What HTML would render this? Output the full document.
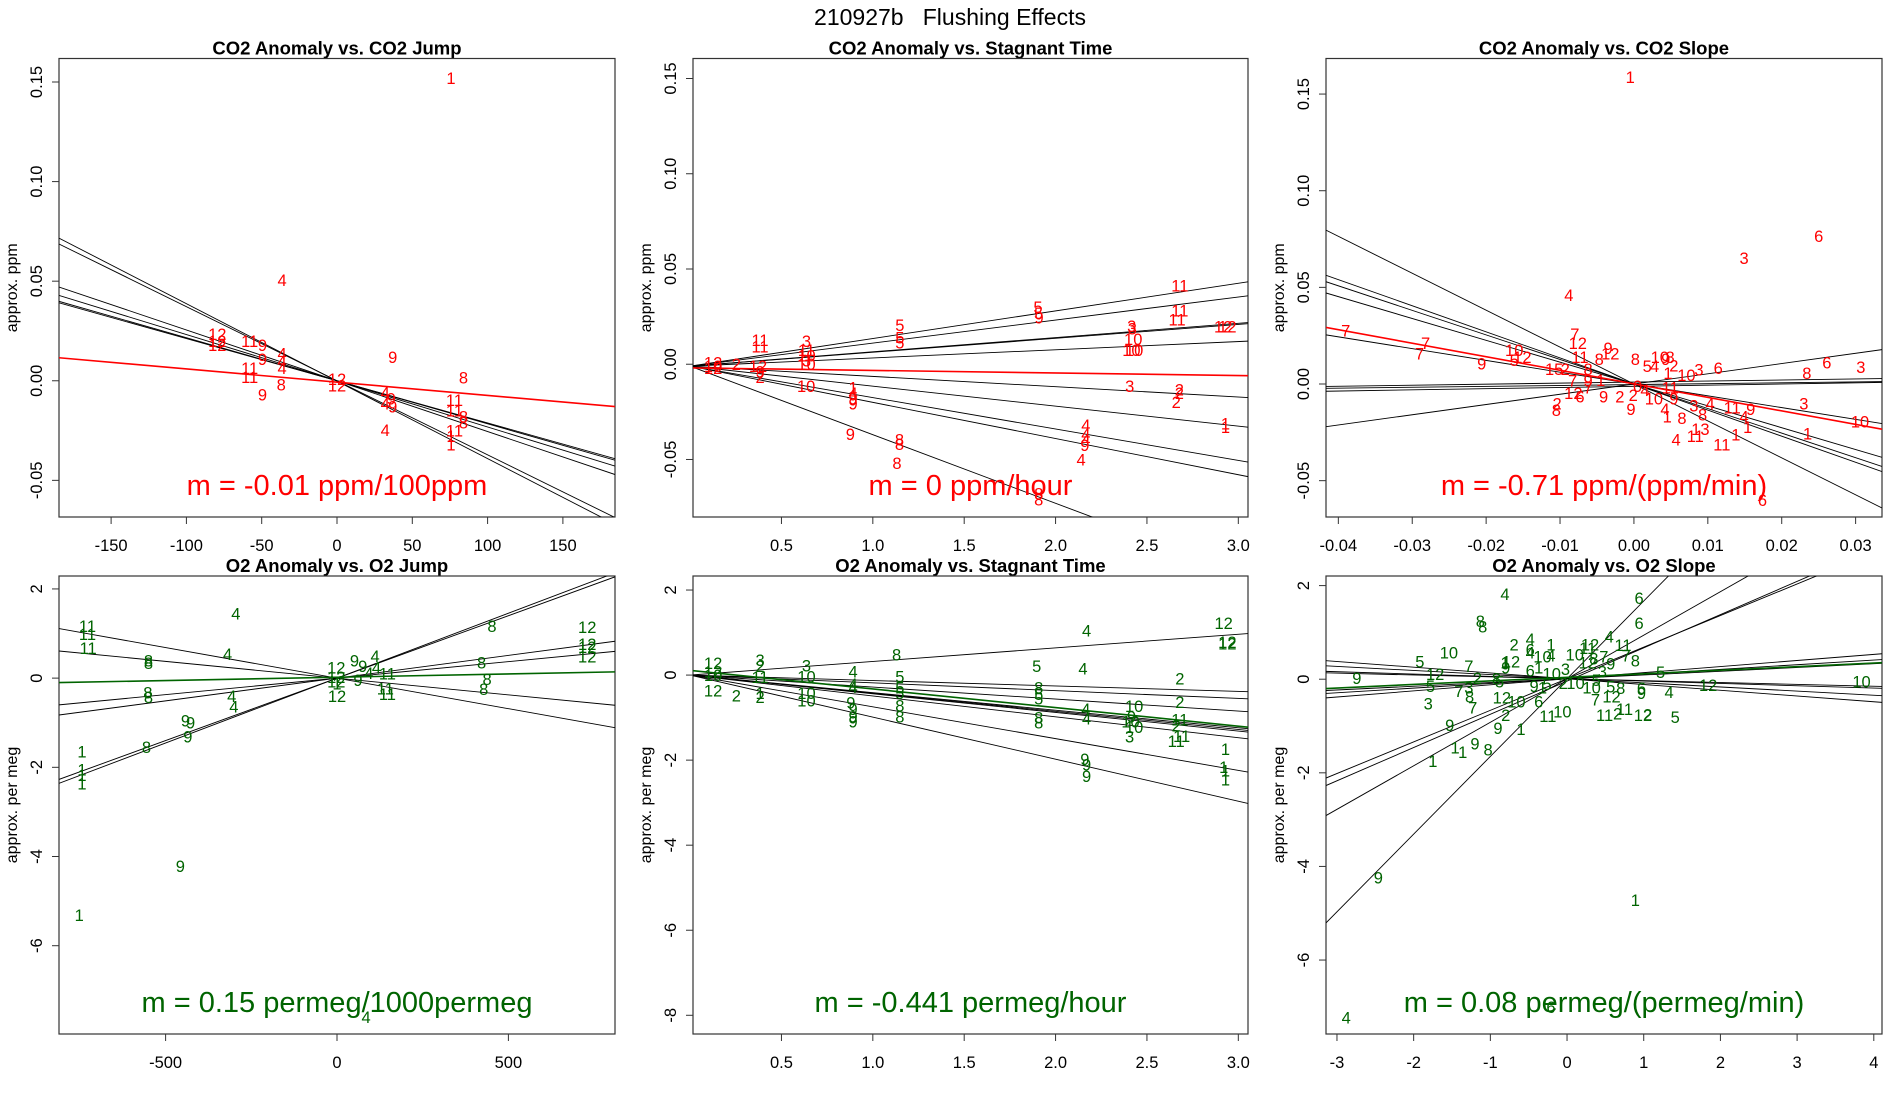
<!DOCTYPE html>
<html><head><meta charset="utf-8"><style>
html,body{margin:0;padding:0;background:#fff;}
svg{display:block;font-family:"Liberation Sans",Arial,sans-serif;}
</style></head><body>
<svg id="chart" width="1900" height="1100" viewBox="0 0 1900 1100" xmlns="http://www.w3.org/2000/svg">
<rect x="0" y="0" width="1900" height="1100" fill="#fff"/>
<text x="950" y="25" text-anchor="middle" font-size="23" style="white-space:pre" xml:space="preserve">210927b   Flushing Effects</text>
</svg>
<script>
// Panel 1: CO2 Anomaly vs CO2 Jump
const p1X=[75.7,-36.5,-79.5,-79.5,-79.5,-58,-49.5,-49.5,-36.5,-36.5,-36.5,-58,-58,-37,-49.5,0,0,37,84,32,32,36,37,32,78,78,84,84,78,75.7,75.7];
const p1Y=[0.152,0.0506,0.0236,0.020,0.018,0.020,0.018,0.011,0.0137,0.010,0.0065,0.0065,0.002,-0.002,-0.007,0.001,-0.0025,0.012,0.0016,-0.006,-0.0115,-0.009,-0.013,-0.0247,-0.0097,-0.015,-0.018,-0.021,-0.025,-0.0277,-0.032];
const p1Lab=["1","4","12","12","12","11","9","9","4","4","4","11","11","8","9","12","12","9","8","4","4","9","9","4","11","11","8","8","11","1","1"];
const p1LineInt=[-0.0002,0,0,0,0,0];
const p1LineSlope=[-0.000389,-0.000372,-0.000255,-0.000232,-0.000216,-0.000212];
const p1FitInt=-0.0007, p1FitSlope=-0.0000664;
// Panel 2: CO2 Anomaly vs Stagnant Time
const p2X=[0.383,0.383,0.637,0.637,0.637,0.637,0.637,1.148,1.148,1.148,1.904,1.907,1.91,2.68,2.68,2.665,2.417,2.42,2.425,2.415,2.43,2.917,2.94,0.126,0.126,0.126,0.253,0.372,0.383,0.383,0.635,0.892,0.892,0.892,0.892,0.877,1.146,1.146,1.132,2.406,2.677,2.677,2.66,2.93,2.93,2.166,2.166,2.166,2.16,2.14,1.908,1.908];
const p2Y=[0.0126,0.0094,0.0122,0.0075,0.0047,0.0019,0.0,0.0207,0.0141,0.0113,0.030,0.027,0.0245,0.0414,0.0283,0.0235,0.0202,0.0188,0.0132,0.0075,0.0075,0.0198,0.0198,0.001,-0.001,-0.002,0.0,-0.001,-0.0038,-0.0066,-0.0113,-0.0122,-0.015,-0.018,-0.0207,-0.0367,-0.0396,-0.042,-0.0518,-0.0113,-0.0132,-0.0151,-0.0198,-0.031,-0.033,-0.032,-0.0367,-0.0396,-0.0424,-0.05,-0.0678,-0.071];
const p2Lab=["11","11","3","11","10","3","10","5","5","5","5","5","9","11","11","11","3","3","10","10","10","12","12","12","10","12","2","12","9","2","10","1","4","9","9","9","8","8","8","3","2","2","2","1","1","4","4","4","9","4","8","8"];
const p2LineInt=[-0.001,-0.001,-0.001,-0.001,-0.001,-0.001,-0.001,-0.001,-0.001,-0.001];
const p2LineSlope=[0.0145,0.0121,0.0075,0.0073,0.0043,-0.0054,-0.0105,-0.0165,-0.019,-0.036];
const p2FitInt=-0.0019, p2FitSlope=-0.00134;
// Panel 3: CO2 Anomaly vs CO2 Slope
const p3X=[-0.0005,0.025,0.0149,-0.0088,-0.039,-0.0282,-0.029,-0.0206,-0.0162,-0.0151,-0.0162,-0.008,-0.0076,-0.0073,-0.0035,-0.0032,-0.0047,0.0002,0.0018,0.0028,0.0035,0.0043,0.0049,0.0054,0.0046,0.0071,0.0088,0.0114,0.0261,0.0307,0.0234,-0.0108,-0.0093,-0.0062,-0.0083,-0.0062,-0.0062,-0.0045,-0.0082,-0.0073,-0.0104,-0.0105,-0.0041,-0.0019,-0.0004,-0.0001,0.0005,0.0015,0.0027,0.0049,0.0054,0.0042,0.0045,0.0065,0.0081,0.0103,0.0093,0.0133,0.0158,0.0149,0.009,0.0154,0.0138,0.0057,0.0083,0.0119,0.023,0.0235,0.0306,0.0174];
const p3Y=[0.1587,0.0767,0.0653,0.046,0.0278,0.0213,0.0158,0.0106,0.0176,0.0139,0.0124,0.026,0.0213,0.0139,0.0186,0.0158,0.013,0.013,0.0093,0.0093,0.0139,0.013,0.0139,0.0097,0.0056,0.0046,0.0074,0.0084,0.0111,0.0087,0.0056,0.0078,0.0078,0.0078,0.0019,0.0019,-0.0019,0.0022,-0.0046,-0.0065,-0.0102,-0.0134,-0.0065,-0.0065,-0.013,-0.0056,-0.001,-0.003,-0.0074,-0.0019,-0.0074,-0.013,-0.0167,-0.0176,-0.0111,-0.0102,-0.0158,-0.0121,-0.013,-0.0167,-0.0232,-0.0223,-0.026,-0.0288,-0.0269,-0.0312,-0.0102,-0.0256,-0.0195,-0.06];
const p3Lab=["1","6","3","4","7","7","7","9","10","12","5","7","12","11","9","12","8","8","5","4","10","9","8","2","1","10","3","6","6","3","8","15","2","8","7","9","7","1","12","6","2","8","9","2","9","2","0","4","10","11","9","4","1","8","3","4","8","11","9","4","13","1","1","4","11","11","3","1","10","6"];
const p3LineInt=[0,0,0,0,0,0.001,-0.0003,-0.0012,0];
const p3LineSlope=[-1.91,-1.35,-1.27,-1.13,-0.61,0.054,0.046,0.061,0.53];
const p3FitInt=0.0001, p3FitSlope=-0.70;
// Panel 4: O2 Anomaly vs O2 Jump
const p4X=[-295,-728,-728,-726,-319,-550,-550,-552,-550,-307,-301,-442,-427,-435,-556,-744,-744,-744,-744,-457,-752,85,-2,-2,-2,0,0,51,75,61,111,115,93,147,141,147,452,422,438,428,730,730,730,730];
const p4Y=[1.45,1.17,0.99,0.68,0.54,0.40,0.34,-0.32,-0.42,-0.40,-0.64,-0.95,-1.0,-1.31,-1.55,-1.65,-2.05,-2.17,-2.36,-4.21,-5.31,-7.6,0.24,0.02,-0.08,-0.40,-0.12,0.40,0.27,-0.04,0.50,0.24,0.12,0.10,-0.23,-0.36,1.17,0.35,-0.02,-0.24,1.15,0.76,0.70,0.48];
const p4Lab=["4","11","11","11","4","8","8","8","8","4","4","9","9","9","8","1","1","1","1","9","1","4","12","12","12","12","1","9","9","9","4","4","4","11","11","11","8","8","8","8","12","12","12","12"];
const p4LineInt=[0,0,0,0,0,0];
const p4LineSlope=[-0.00137,-0.00075,0.00074,0.00102,0.00280,0.00291];
const p4FitInt=0.02, p4FitSlope=0.000148;
// Panel 5: O2 Anomaly vs Stagnant Time
const p5X=[0.126,0.126,0.126,0.126,0.253,0.383,0.383,0.383,0.383,0.383,0.637,0.637,0.637,0.637,0.892,0.892,0.892,0.88,0.892,0.892,0.892,1.13,1.148,1.148,1.148,1.148,1.148,1.897,1.908,1.908,1.908,1.908,1.908,2.17,2.15,2.166,2.17,2.16,2.17,2.17,2.43,2.415,2.41,2.43,2.405,2.68,2.68,2.68,2.66,2.69,2.66,2.92,2.94,2.94,2.93,2.92,2.93,2.93];
const p5Y=[0.29,0.08,-0.36,0,-0.48,0.35,0.21,-0.04,-0.42,-0.52,0.23,-0.03,-0.42,-0.60,0.08,-0.21,-0.28,-0.65,-0.80,-0.97,-1.09,0.48,-0.03,-0.29,-0.42,-0.71,-0.97,0.21,-0.29,-0.45,-0.55,-1.0,-1.12,1.05,0.15,-0.80,-1.02,-1.97,-2.10,-2.37,-0.73,-0.97,-1.09,-1.22,-1.45,-0.08,-0.63,-1.05,-1.19,-1.43,-1.55,1.22,0.78,0.74,-1.74,-2.16,-2.24,-2.46];
const p5Lab=["12","12","12","10","2","3","2","11","1","2","3","10","10","10","4","4","4","9","9","9","9","8","5","5","5","8","8","5","8","5","5","8","8","4","4","4","4","9","9","9","10","9","10","10","3","2","2","11","2","11","11","12","12","12","1","1","1","1"];
const p5LineInt=[0,0,0,0,0,0,0,0,0,0];
const p5LineSlope=[0.32,-0.128,-0.183,-0.282,-0.413,-0.426,-0.439,-0.491,-0.747,-0.989];
const p5FitInt=0.11, p5FitSlope=-0.437;
// Panel 6: O2 Anomaly vs O2 Slope
const p6X=[-0.81,-1.13,-1.10,0.94,0.94,0.55,0.73,0.77,0.89,-0.69,-0.48,-0.21,-0.48,-0.48,-0.32,-0.21,-1.54,-1.92,-1.28,-1.72,-2.74,-1.78,-1.17,-0.92,-0.88,-0.73,-0.81,-0.80,-1.41,-1.28,-1.27,-1.23,-1.81,-0.85,-0.66,-0.37,-0.80,-1.53,-0.90,-0.60,-1.46,-1.36,-1.20,-1.03,-1.75,-2.46,0.89,-2.88,-0.21,-0.25,-0.06,0.49,0.66,0.75,0.99,1.05,1.41,0.37,0.58,0.57,0.70,0.97,0.97,1.33,1.22,1.84,3.84,0.10,0.30,0.27,0.27,0.35,0.48,0.46,0.57,-0.02,-0.20,-0.48,-0.37,-0.43,-0.26,-0.32,-0.05,0.11,0.32,0.38];
const p6Y=[1.82,1.24,1.13,1.74,1.20,0.91,0.73,0.51,0.40,0.74,0.86,0.74,0.63,0.57,0.48,0.51,0.57,0.38,0.28,0.11,0.03,-0.14,0.03,0.02,-0.05,0.38,0.36,0.25,-0.25,-0.18,-0.37,-0.60,-0.52,-0.39,-0.48,-0.48,-0.77,-0.98,-1.04,-1.06,-1.46,-1.56,-1.37,-1.50,-1.75,-4.24,-4.72,-7.23,-7.0,-0.79,-0.69,-0.77,-0.73,-0.64,-0.77,-0.75,-0.81,-0.43,-0.37,-0.16,-0.19,-0.19,-0.29,-0.27,0.15,-0.12,-0.05,0.53,0.74,0.67,0.36,0.44,0.48,0.17,0.34,0.22,0.12,0.19,0.25,-0.14,-0.10,-0.18,-0.08,-0.08,-0.18,-0.02];
const p6Lab=["4","8","8","6","6","4","11","7","8","2","4","1","6","4","10","4","10","5","7","12","9","5","2","8","5","12","1","9","7","3","8","7","3","12","10","6","2","9","9","1","1","1","9","8","1","9","1","4","6","11","10","11","2","11","12","2","5","7","12","5","8","6","9","4","5","12","10","10","12","11","12","8","7","3","9","3","10","6","1","9","5","1","2","10","10","5"];
const p6LineInt=[0.01,0.01,0.01,0.01,0.01,0.01,0.01,0.01,-0.04,0.01,0.01];
const p6LineSlope=[-0.123,-0.088,-0.05,-0.04,0.08,0.10,0.13,0.675,0.71,0.93,1.66];
const p6FitInt=0.04, p6FitSlope=0.076;

const xTicks1=[-150,-100,-50,0,50,100,150], xTickLab1=["-150","-100","-50","0","50","100","150"];
const xTicks2=[0.5,1,1.5,2,2.5,3], xTickLab2=["0.5","1.0","1.5","2.0","2.5","3.0"];
const xTicks3=[-0.04,-0.03,-0.02,-0.01,0,0.01,0.02,0.03], xTickLab3=["-0.04","-0.03","-0.02","-0.01","0.00","0.01","0.02","0.03"];
const xTicks4=[-500,0,500], xTickLab4=["-500","0","500"];
const xTicks6=[-3,-2,-1,0,1,2,3,4], xTickLab6=["-3","-2","-1","0","1","2","3","4"];
const yTicksCO2=[-0.05,0,0.05,0.1,0.15], yTickLabCO2=["-0.05","0.00","0.05","0.10","0.15"];
const yTicks4=[-6,-4,-2,0,2], yTickLab4=["-6","-4","-2","0","2"];
const yTicks5=[-8,-6,-4,-2,0,2], yTickLab5=["-8","-6","-4","-2","0","2"];

const panels=[
 {n:"co2-jump",l:59,r:615,t:58.5,b:517,xl:[-184.6,184.6],yl:[-0.0684,0.1618],xt:xTicks1,xtl:xTickLab1,yt:yTicksCO2,ytl:yTickLabCO2,title:"CO2 Anomaly vs. CO2 Jump",ylab:"approx. ppm",col:"#ff0000",ann:"m = -0.01 ppm/100ppm",X:p1X,Y:p1Y,L:p1Lab,li:p1LineInt,ls:p1LineSlope,fi:p1FitInt,fs:p1FitSlope},
 {n:"co2-stagnant",l:693,r:1248,t:58.5,b:517,xl:[0.016,3.053],yl:[-0.0802,0.1605],xt:xTicks2,xtl:xTickLab2,yt:yTicksCO2,ytl:yTickLabCO2,title:"CO2 Anomaly vs. Stagnant Time",ylab:"approx. ppm",col:"#ff0000",ann:"m = 0 ppm/hour",X:p2X,Y:p2Y,L:p2Lab,li:p2LineInt,ls:p2LineSlope,fi:p2FitInt,fs:p2FitSlope},
 {n:"co2-slope",l:1326,r:1882,t:58.5,b:517,xl:[-0.04167,0.03357],yl:[-0.0688,0.1684],xt:xTicks3,xtl:xTickLab3,yt:yTicksCO2,ytl:yTickLabCO2,title:"CO2 Anomaly vs. CO2 Slope",ylab:"approx. ppm",col:"#ff0000",ann:"m = -0.71 ppm/(ppm/min)",X:p3X,Y:p3Y,L:p3Lab,li:p3LineInt,ls:p3LineSlope,fi:p3FitInt,fs:p3FitSlope},
 {n:"o2-jump",l:59,r:615,t:576,b:1034,xl:[-811,811],yl:[-7.98,2.29],xt:xTicks4,xtl:xTickLab4,yt:yTicks4,ytl:yTickLab4,title:"O2 Anomaly vs. O2 Jump",ylab:"approx. per meg",col:"#006400",ann:"m = 0.15 permeg/1000permeg",X:p4X,Y:p4Y,L:p4Lab,li:p4LineInt,ls:p4LineSlope,fi:p4FitInt,fs:p4FitSlope},
 {n:"o2-stagnant",l:693,r:1248,t:576,b:1034,xl:[0.016,3.053],yl:[-8.44,2.33],xt:xTicks2,xtl:xTickLab2,yt:yTicks5,ytl:yTickLab5,title:"O2 Anomaly vs. Stagnant Time",ylab:"approx. per meg",col:"#006400",ann:"m = -0.441 permeg/hour",X:p5X,Y:p5Y,L:p5Lab,li:p5LineInt,ls:p5LineSlope,fi:p5FitInt,fs:p5FitSlope},
 {n:"o2-slope",l:1326,r:1882,t:576,b:1034,xl:[-3.143,4.107],yl:[-7.58,2.205],xt:xTicks6,xtl:xTickLab6,yt:yTicks4,ytl:yTickLab4,title:"O2 Anomaly vs. O2 Slope",ylab:"approx. per meg",col:"#006400",ann:"m = 0.08 permeg/(permeg/min)",X:p6X,Y:p6Y,L:p6Lab,li:p6LineInt,ls:p6LineSlope,fi:p6FitInt,fs:p6FitSlope}
];
const NS="http://www.w3.org/2000/svg";
const svg=document.getElementById("chart");
function mk(tag,attrs,parent,txt){const e=document.createElementNS(NS,tag);for(const k in attrs)e.setAttribute(k,attrs[k]);if(txt!==undefined)e.textContent=txt;parent.appendChild(e);return e;}
const defs=mk("defs",{},svg);
panels.forEach((p,pi)=>{
 const sx=v=>p.l+(v-p.xl[0])/(p.xl[1]-p.xl[0])*(p.r-p.l);
 const sy=v=>p.b-(v-p.yl[0])/(p.yl[1]-p.yl[0])*(p.b-p.t);
 const g=mk("g",{},svg);
 
 
 const cp=mk("clipPath",{id:"cp"+pi},defs);
 mk("rect",{x:p.l,y:p.t,width:p.r-p.l,height:p.b-p.t},cp);
 const title=mk("text",{x:(p.l+p.r)/2,y:p.t-4,"text-anchor":"middle","font-size":"18.5","font-weight":"bold"},g,p.title);
 
 
 const ylab=mk("text",{x:0,y:0,"text-anchor":"middle","font-size":"16",transform:`translate(${p.l-42},${(p.t+p.b)/2}) rotate(-90)`},g,p.ylab);
 
 
 const xa=mk("g",{},g);
 
 
 mk("line",{x1:sx(p.xt[0]),x2:sx(p.xt[p.xt.length-1]),y1:p.b,y2:p.b,stroke:"#333","stroke-width":1},xa);
 p.xt.forEach((v,i)=>{
  mk("line",{x1:sx(v),x2:sx(v),y1:p.b,y2:p.b+7,stroke:"#333","stroke-width":1},xa);
  const t=mk("text",{x:sx(v),y:p.b+34,"text-anchor":"middle","font-size":"16.5"},xa,p.xtl[i]);
  
  
 });
 const ya=mk("g",{},g);
 
 
 mk("line",{x1:p.l,x2:p.l,y1:sy(p.yt[0]),y2:sy(p.yt[p.yt.length-1]),stroke:"#333","stroke-width":1},ya);
 p.yt.forEach((v,i)=>{
  mk("line",{x1:p.l-7,x2:p.l,y1:sy(v),y2:sy(v),stroke:"#333","stroke-width":1},ya);
  const t=mk("text",{x:0,y:0,"text-anchor":"middle","font-size":"16.5",transform:`translate(${p.l-17},${sy(v)}) rotate(-90)`},ya,p.ytl[i]);
  
  
 });
 const box=mk("rect",{x:p.l,y:p.t,width:p.r-p.l,height:p.b-p.t,fill:"none",stroke:"#333","stroke-width":1.2},g);
 
 
 const cg=mk("g",{"clip-path":`url(#cp${pi})`},g);
 p.li.forEach((a,i)=>{
  const s=p.ls[i];
  const ln=mk("line",{x1:sx(p.xl[0]),y1:sy(a+s*p.xl[0]),x2:sx(p.xl[1]),y2:sy(a+s*p.xl[1]),stroke:"#000","stroke-width":0.9},cg);
  
  
 });
 const fl=mk("line",{x1:sx(p.xl[0]),y1:sy(p.fi+p.fs*p.xl[0]),x2:sx(p.xl[1]),y2:sy(p.fi+p.fs*p.xl[1]),stroke:p.col,"stroke-width":1.6},cg);
 
 
 p.X.forEach((x,i)=>{
  const t=mk("text",{x:sx(x),y:sy(p.Y[i])+6,"text-anchor":"middle","font-size":"16.5",fill:p.col},g,p.L[i]);
  
  
 });
 const an=mk("text",{x:(p.l+p.r)/2,y:p.b-22,"text-anchor":"middle","font-size":"29",fill:p.col},g,p.ann);
 
 
});
</script>
</body></html>
